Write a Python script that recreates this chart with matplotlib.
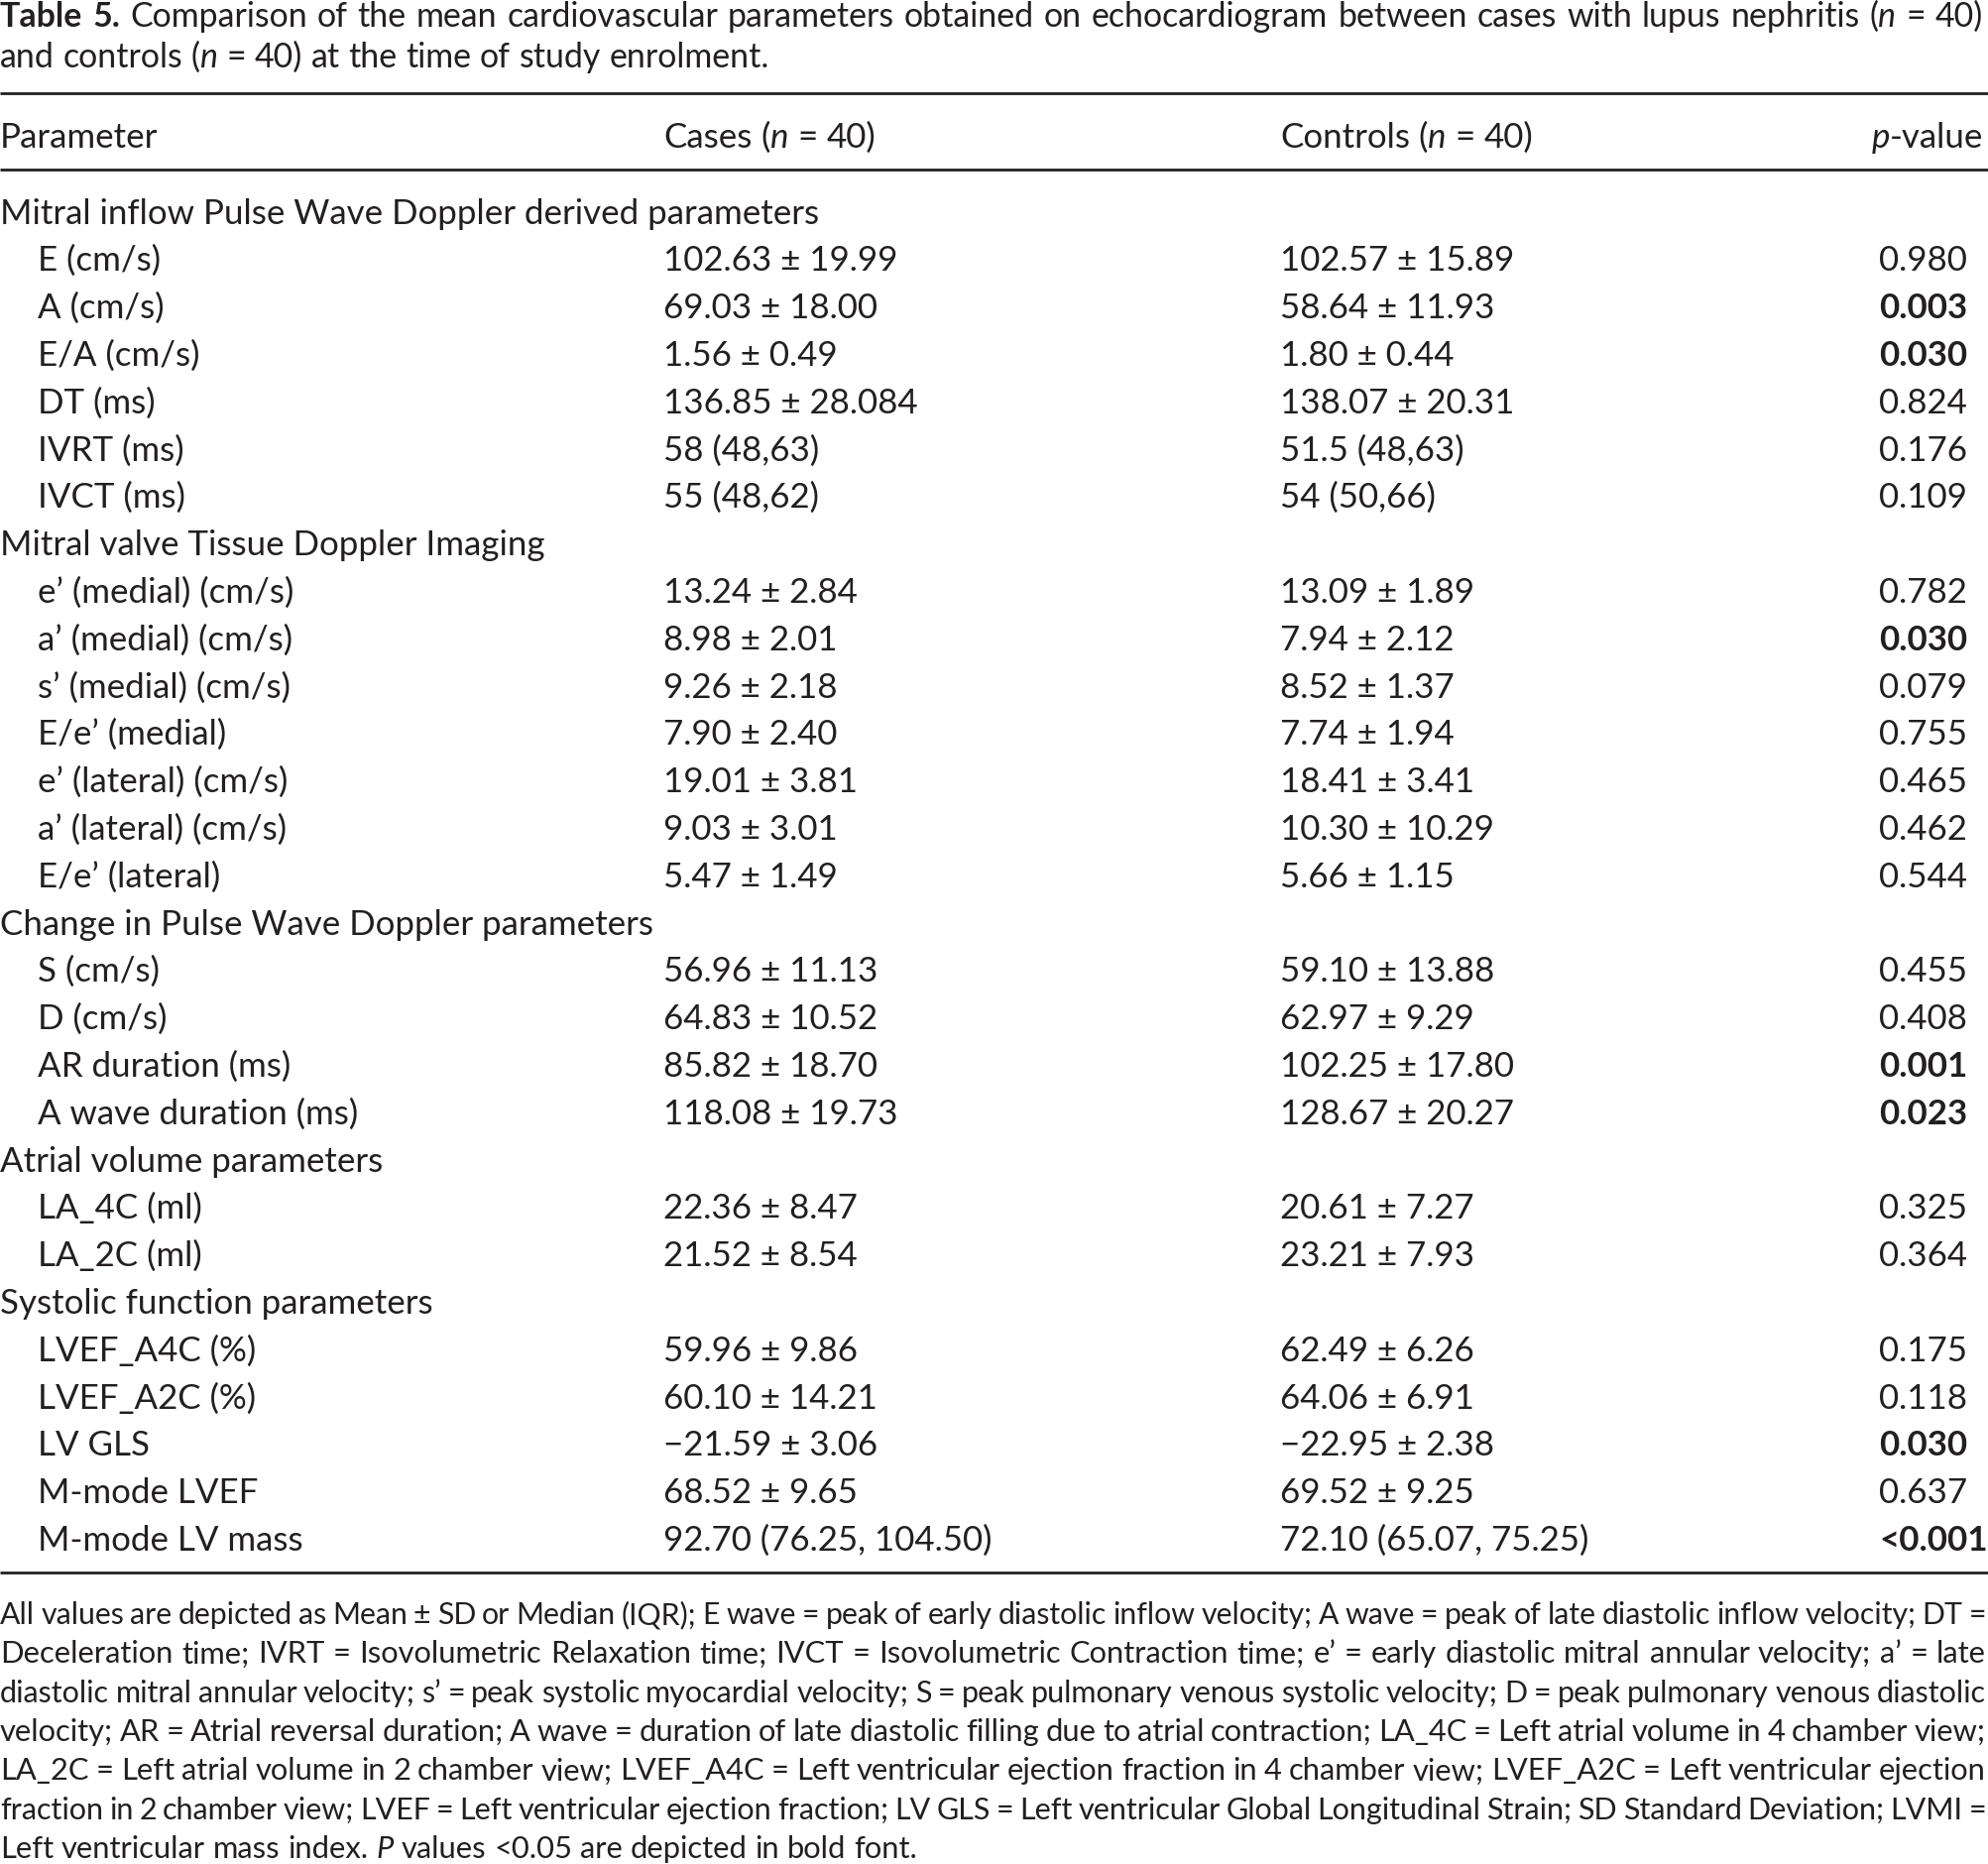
import matplotlib
matplotlib.use("Agg")
import matplotlib.pyplot as plt

FONT = ["Lato", "DejaVu Sans"]
INK = "#231f20"

# ---- table data ----
sections = ["Mitral inflow Pulse Wave Doppler derived parameters",
            "Mitral valve Tissue Doppler Imaging",
            "Change in Pulse Wave Doppler parameters",
            "Atrial volume parameters",
            "Systolic function parameters"]
section_rows = [6, 7, 4, 2, 5]

params = ["E (cm/s)", "A (cm/s)", "E/A (cm/s)", "DT (ms)", "IVRT (ms)", "IVCT (ms)",
          "e’ (medial) (cm/s)", "a’ (medial) (cm/s)", "s’ (medial) (cm/s)", "E/e’ (medial)",
          "e’ (lateral) (cm/s)", "a’ (lateral) (cm/s)", "E/e’ (lateral)",
          "S (cm/s)", "D (cm/s)", "AR duration (ms)", "A wave duration (ms)",
          "LA_4C (ml)", "LA_2C (ml)",
          "LVEF_A4C (%)", "LVEF_A2C (%)", "LV GLS", "M-mode LVEF", "M-mode LV mass"]

cases = ["102.63 ± 19.99", "69.03 ± 18.00", "1.56 ± 0.49", "136.85 ± 28.084",
         "58 (48,63)", "55 (48,62)",
         "13.24 ± 2.84", "8.98 ± 2.01", "9.26 ± 2.18", "7.90 ± 2.40",
         "19.01 ± 3.81", "9.03 ± 3.01", "5.47 ± 1.49",
         "56.96 ± 11.13", "64.83 ± 10.52", "85.82 ± 18.70", "118.08 ± 19.73",
         "22.36 ± 8.47", "21.52 ± 8.54",
         "59.96 ± 9.86", "60.10 ± 14.21", "−21.59 ± 3.06", "68.52 ± 9.65",
         "92.70 (76.25, 104.50)"]

controls = ["102.57 ± 15.89", "58.64 ± 11.93", "1.80 ± 0.44", "138.07 ± 20.31",
            "51.5 (48,63)", "54 (50,66)",
            "13.09 ± 1.89", "7.94 ± 2.12", "8.52 ± 1.37", "7.74 ± 1.94",
            "18.41 ± 3.41", "10.30 ± 10.29", "5.66 ± 1.15",
            "59.10 ± 13.88", "62.97 ± 9.29", "102.25 ± 17.80", "128.67 ± 20.27",
            "20.61 ± 7.27", "23.21 ± 7.93",
            "62.49 ± 6.26", "64.06 ± 6.91", "−22.95 ± 2.38", "69.52 ± 9.25",
            "72.10 (65.07, 75.25)"]

p_values = ["0.980", "0.003", "0.030", "0.824", "0.176", "0.109",
            "0.782", "0.030", "0.079", "0.755", "0.465", "0.462", "0.544",
            "0.455", "0.408", "0.001", "0.023",
            "0.325", "0.364",
            "0.175", "0.118", "0.030", "0.637", "<0.001"]

# '*' toggles italic, '#' toggles bold
title_lines = ["#Table 5.# Comparison of the mean cardiovascular parameters obtained on "
               "echocardiogram between cases with lupus nephritis (*n* = 40)",
               "and controls (*n* = 40) at the time of study enrolment."]
header = ["Parameter", "Cases (*n* = 40)", "Controls (*n* = 40)", "*p*-value"]

footnote_lines = [
    "All values are depicted as Mean ± SD or Median (IQR); E wave = peak of early diastolic inflow velocity; A wave = peak of late diastolic inflow velocity; DT =",
    "Deceleration time; IVRT = Isovolumetric Relaxation time; IVCT = Isovolumetric Contraction time; e’ = early diastolic mitral annular velocity; a’ = late",
    "diastolic mitral annular velocity; s’ = peak systolic myocardial velocity; S = peak pulmonary venous systolic velocity; D = peak pulmonary venous diastolic",
    "velocity; AR = Atrial reversal duration; A wave = duration of late diastolic filling due to atrial contraction; LA_4C = Left atrial volume in 4 chamber view;",
    "LA_2C = Left atrial volume in 2 chamber view; LVEF_A4C = Left ventricular ejection fraction in 4 chamber view; LVEF_A2C = Left ventricular ejection",
    "fraction in 2 chamber view; LVEF = Left ventricular ejection fraction; LV GLS = Left ventricular Global Longitudinal Strain; SD Standard Deviation; LVMI =",
    "Left ventricular mass index. *P* values <0.05 are depicted in bold font.",
]

W, H = 2006, 1881
fig = plt.figure(figsize=(W / 100, H / 100), dpi=100)
ax = fig.add_axes([0, 0, 1, 1])
ax.set_xlim(0, W)
ax.set_ylim(H, 0)
ax.axis("off")
renderer = fig.canvas.get_renderer()


def text_width(s, size, bold=False, italic=False):
    t = ax.text(0, 0, s, fontsize=size, family=FONT,
                fontweight="bold" if bold else "normal",
                fontstyle="italic" if italic else "normal")
    w = t.get_window_extent(renderer).width
    t.remove()
    return w


def parse_words(line):
    words = []
    bold = italic = False
    for raw in line.split(" "):
        if raw == "":
            continue
        segs, buf = [], ""
        for ch in raw:
            if ch in "*#":
                if buf:
                    segs.append((buf, bold, italic))
                    buf = ""
                if ch == "*":
                    italic = not italic
                else:
                    bold = not bold
            else:
                buf += ch
        if buf:
            segs.append((buf, bold, italic))
        words.append(segs)
    return words


def line_layout(line, size):
    words = parse_words(line)
    widths = [[text_width(s, size, b, i) for s, b, i in w] for w in words]
    space = text_width("a a", size) - text_width("aa", size)
    return words, widths, space


def natural_width(line, size):
    words, widths, space = line_layout(line, size)
    return sum(sum(w) for w in widths) + space * (len(words) - 1)


def draw_line(line, x0, y, size, width=None, align="left"):
    words, widths, space = line_layout(line, size)
    total = sum(sum(w) for w in widths)
    gap = space
    if width is not None and len(words) > 1:
        gap = (width - total) / (len(words) - 1)
        # too tight: shrink the type a little for this line
        while gap < 0.75 * space:
            size *= 0.99
            words, widths, space = line_layout(line, size)
            total = sum(sum(w) for w in widths)
            gap = (width - total) / (len(words) - 1)
    natural = total + space * (len(words) - 1)
    x = x0 - natural if align == "right" else x0
    for segs, ws in zip(words, widths):
        for (s, b, i), w in zip(segs, ws):
            ax.text(x, y, s, fontsize=size, family=FONT, color=INK,
                    fontweight="bold" if b else "normal",
                    fontstyle="italic" if i else "normal",
                    ha="left", va="baseline")
            x += w
        x += gap


def fit_size(s, target):
    return 20 * target / natural_width(s, 20)


body_size = fit_size(sections[0], 828)
note_size = fit_size("Left ventricular mass index. *P* values <0.05 are depicted in bold font.", 927)
title_size = min(fit_size(title_lines[1], 820), 0.99 * fit_size(title_lines[0], 2000))

px = 100 / 72
base_off = 0.36 * body_size * px

# title
draw_line(title_lines[0], 0, 15 + 0.36 * title_size * px, title_size, width=2000)
draw_line(title_lines[1], 0, 56 + 0.36 * title_size * px, title_size)

# rules
for yr in (95, 172, 1587):
    ax.plot([0, W], [yr, yr], color=INK, lw=2.0, solid_capstyle="butt")

# header
col_x = [0, 669, 1291, 2000]
hy = 136 + base_off
draw_line(header[0], col_x[0], hy, body_size)
draw_line(header[1], col_x[1], hy, body_size)
draw_line(header[2], col_x[2], hy, body_size)
draw_line(header[3], col_x[3], hy, body_size, align="right")

# body rows
row0, step = 213, 47.8
indent, p_x = 38, 1895
r = 0
k = 0
for name, n in zip(sections, section_rows):
    ax.text(0, row0 + r * step + base_off, name, fontsize=body_size, family=FONT,
            color=INK, va="baseline")
    r += 1
    for _ in range(n):
        y = row0 + r * step + base_off
        ax.text(indent, y, params[k], fontsize=body_size, family=FONT, color=INK, va="baseline")
        ax.text(col_x[1], y, cases[k], fontsize=body_size, family=FONT, color=INK, va="baseline")
        ax.text(col_x[2], y, controls[k], fontsize=body_size, family=FONT, color=INK, va="baseline")
        pv = p_values[k]
        sig = pv.startswith("<") or float(pv) < 0.05
        ax.text(p_x, y, pv, fontsize=body_size, family=FONT, color=INK, va="baseline",
                fontweight="bold" if sig else "normal")
        r += 1
        k += 1

# footnote (justified)
fy0, fstep = 1627, 39.3
for j, line in enumerate(footnote_lines):
    y = fy0 + j * fstep + 0.36 * note_size * px
    last = j == len(footnote_lines) - 1
    draw_line(line, 0, y, note_size, width=None if last else 2003)

fig.savefig("out.png", dpi=100)
